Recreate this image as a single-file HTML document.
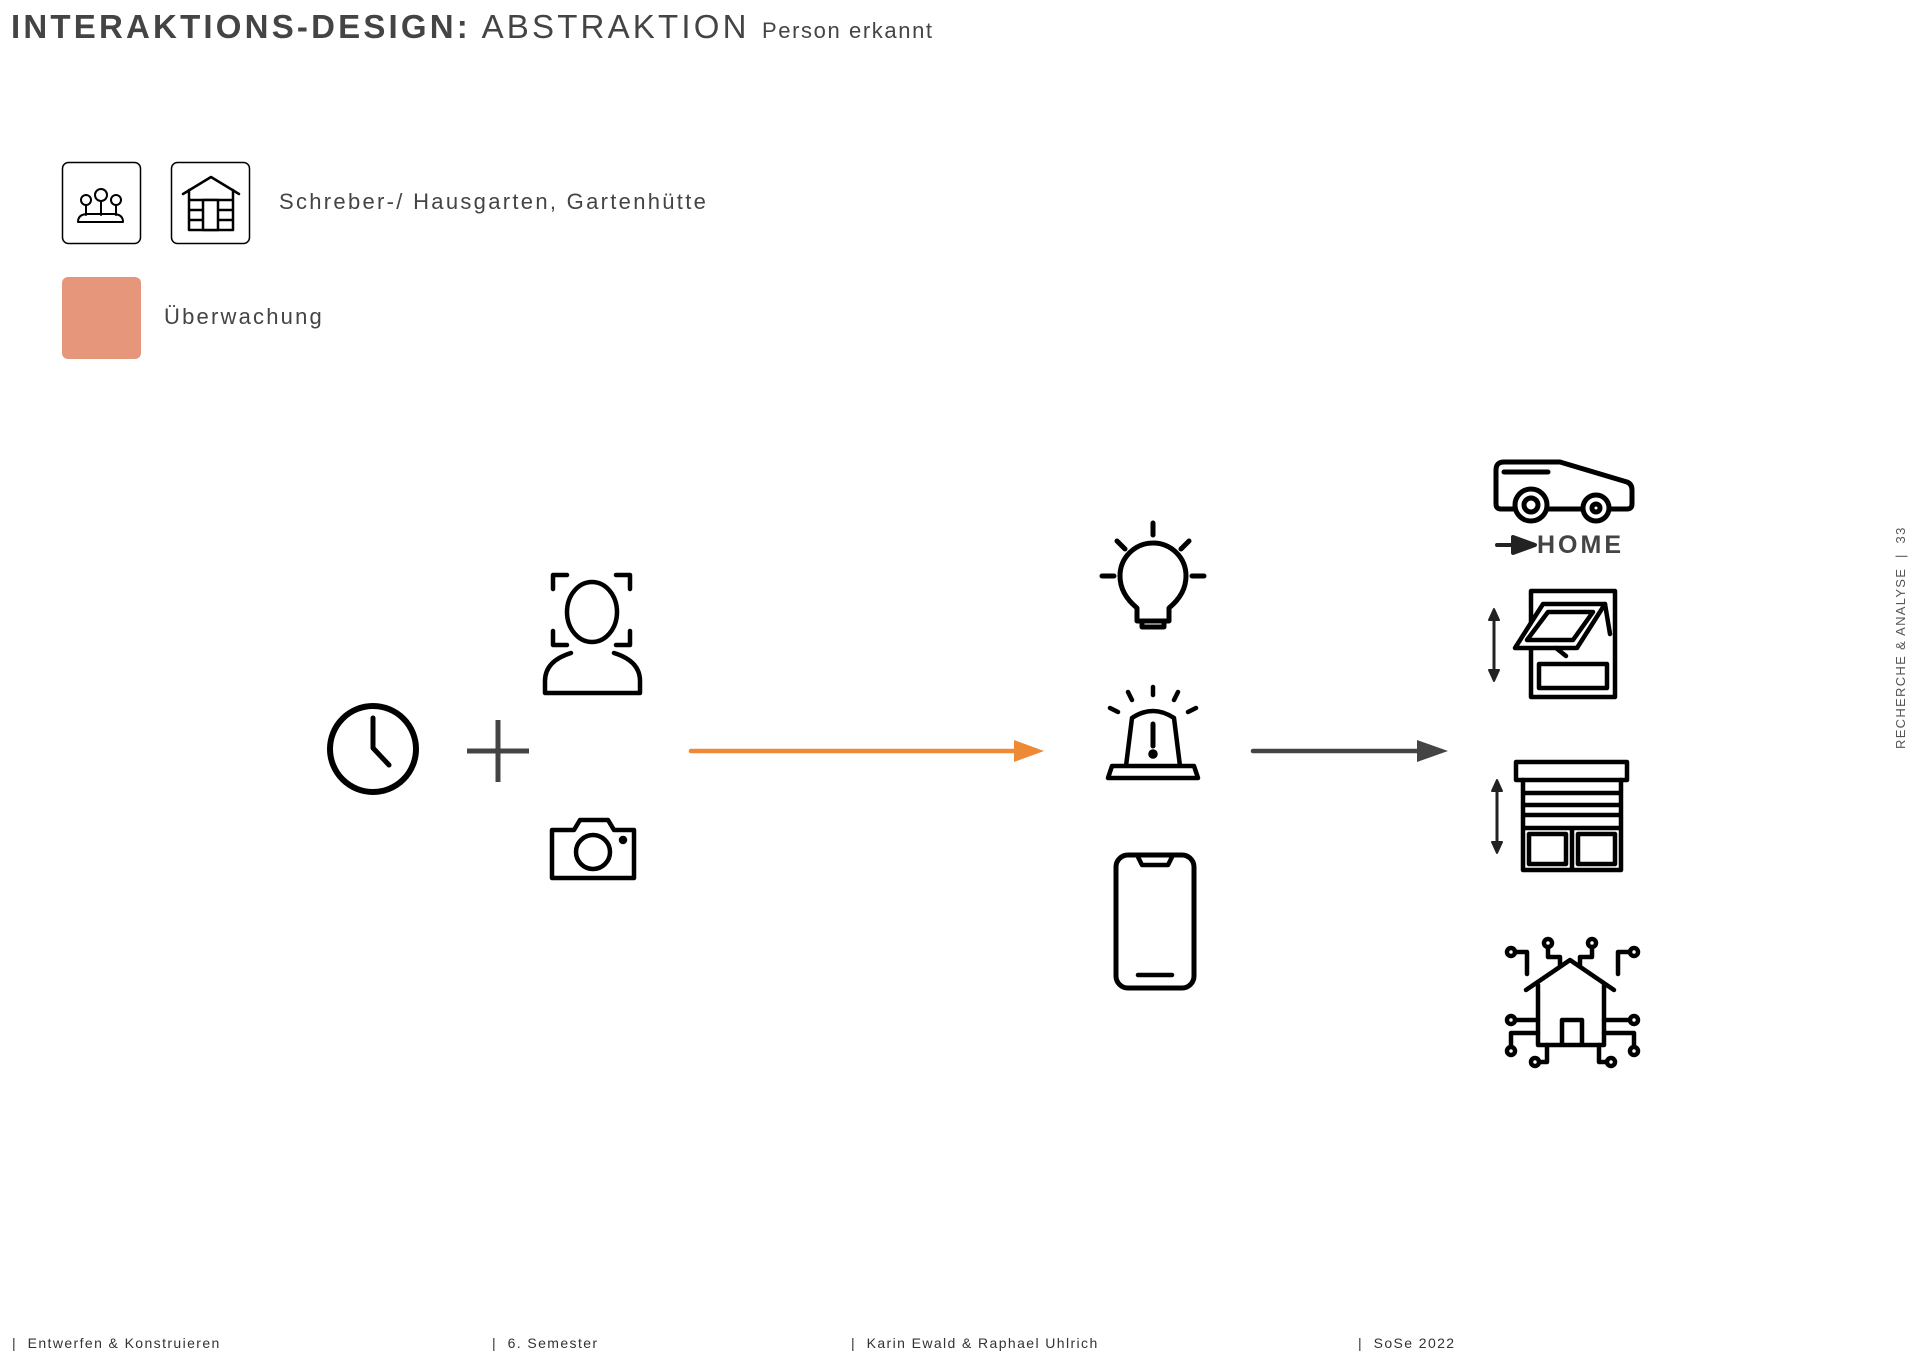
<!DOCTYPE html>
<html><head><meta charset="utf-8"><style>
html,body{margin:0;padding:0;background:#fff;width:1920px;height:1355px;overflow:hidden;font-family:"Liberation Sans",sans-serif;color:#444}
.t{position:absolute;white-space:nowrap}
</style></head><body>
<div class="t" style="left:11px;top:8px;font-size:33px;letter-spacing:3.2px;color:#444"><b>INTERAKTIONS-DESIGN:</b> <span style="font-weight:normal">ABSTRAKTION</span> <span style="font-size:22px;letter-spacing:1.6px">Person erkannt</span></div>
<div class="t" style="left:279px;top:189px;font-size:22px;letter-spacing:2.3px;color:#444">Schreber-/ Hausgarten, Gartenhütte</div>
<div class="t" style="left:164px;top:304px;font-size:22px;letter-spacing:2.2px;color:#444">Überwachung</div>
<div class="t" style="left:1893px;top:749px;font-size:13px;letter-spacing:1.3px;color:#555;transform:rotate(-90deg);transform-origin:0 0">RECHERCHE &amp; ANALYSE &nbsp;|&nbsp; 33</div>
<div class="t" style="left:12px;top:1335px;font-size:14px;letter-spacing:1.4px;color:#333">|&nbsp; Entwerfen &amp; Konstruieren</div>
<div class="t" style="left:492px;top:1335px;font-size:14px;letter-spacing:1.4px;color:#333">|&nbsp; 6. Semester</div>
<div class="t" style="left:851px;top:1335px;font-size:14px;letter-spacing:1.4px;color:#333">|&nbsp; Karin Ewald &amp; Raphael Uhlrich</div>
<div class="t" style="left:1358px;top:1335px;font-size:14px;letter-spacing:1.4px;color:#333">|&nbsp; SoSe 2022</div>
<svg width="1920" height="1355" style="position:absolute;left:0;top:0" fill="none" stroke="#000" stroke-linecap="round" stroke-linejoin="round">
<rect x="62.5" y="162.5" width="78" height="81" rx="6" stroke-width="1.5"/>
<rect x="171.5" y="162.5" width="78" height="81" rx="6" stroke-width="1.5"/>
<g stroke-width="2"><circle cx="86" cy="200" r="5"/><circle cx="101" cy="195" r="6"/><circle cx="116" cy="200" r="5"/><path d="M86 205v10M101 201v14M116 205v10M78 222q0-8 10-8h25q10 0 10 8z"/></g>
<g stroke-width="2.5"><path d="M183 194l28-17 28 17M189 190v40h44v-40M189 200h44M189 210h44M189 220h44"/><rect x="203" y="200" width="15" height="30" fill="#fff"/></g>
<rect x="62" y="277" width="79" height="82" rx="6" fill="#E6967A" stroke="none"/>
<circle cx="373" cy="749" r="43" stroke-width="6"/><path d="M373 718v30l16 17" stroke-width="5"/>
<path d="M498 720v62M467 751h62" stroke="#444" stroke-width="5" stroke-linecap="butt"/>
<g stroke-width="4.5"><path d="M553 589v-14h14M616 575h14v14M553 631v14h14M630 631v14h-14"/>
<ellipse cx="592" cy="612" rx="25" ry="30"/><path d="M545 693v-12q0-20 26-28M640 693v-12q0-20-26-28M545 693h95"/></g>
<g stroke-width="4.5"><path d="M552 830h22l6-10h28l6 10h20v48h-82z"/><circle cx="593" cy="852" r="17"/><circle cx="623" cy="840" r="2" fill="#000"/></g>
<path d="M691 751h325" stroke="#EE8A35" stroke-width="4.5"/><path d="M1014 740l30 11-30 11z" fill="#EE8A35" stroke="none"/>
<g stroke-width="5"><path d="M1153 523v12M1117 541l8 8M1189 541l-8 8M1102 576h12M1192 576h12"/>
<path d="M1137 608q-17-14-17-32a33 33 0 0 1 66 0q0 18-17 32v13h-32z"/><path d="M1142 621v6h22v-6"/></g>
<g stroke-width="4.5"><path d="M1153 687v8M1128 692l4 8M1178 692l-4 8M1110 708l8 4M1196 708l-8 4M1126 766l6-48q21-14 42 0l6 48M1108 778l4-12h82l4 12z"/><path d="M1153 724v22" stroke-width="5"/><circle cx="1153" cy="754" r="2.5" fill="#000"/></g>
<rect x="1116" y="855" width="78" height="133" rx="12" stroke-width="5"/><path d="M1138 857l4 8h26l4-8M1138 975h34" stroke-width="4.5"/>
<path d="M1253 751h167" stroke="#444" stroke-width="4.5"/><path d="M1417 740l31 11-31 11z" fill="#444" stroke="none"/>
<g stroke-width="5"><path d="M1496 495v-25q0-8 8-8h56l67 20q5 2 5 8v14q0 5-5 5h-126q-5 0-5-5z M1504 472h44"/><circle cx="1531" cy="505" r="16" fill="#fff"/><circle cx="1531" cy="505" r="7"/><circle cx="1596" cy="508" r="13" fill="#fff"/><circle cx="1596" cy="508" r="4"/></g>
<path d="M1497 545h20M1513 537l22 8-22 8z" fill="#222" stroke="#222" stroke-width="4"/>
<text x="1537" y="553" font-family="Liberation Sans" font-weight="bold" font-size="25" letter-spacing="3" fill="#444" stroke="none">HOME</text>
<g stroke-width="4.5"><rect x="1531" y="591" width="84" height="106"/><rect x="1539" y="664" width="68" height="24"/><path d="M1515 648l28-44h62l-28 44z" fill="#fff"/><path d="M1527 640l21-28h45l-20 28z"/><path d="M1556 648l10 8M1605 604l5 30"/></g>
<path d="M1494 618v55" stroke="#222" stroke-width="3"/><path d="M1489 620l5-11 5 11zM1489 670l5 11 5-11z" fill="#222" stroke="#222" stroke-width="2"/>
<g stroke-width="4.5"><rect x="1516" y="762" width="111" height="18"/><path d="M1523 780v90h98v-90M1523 793h98M1523 805h98M1523 815h98M1523 828h98M1572 828v42"/><rect x="1529" y="834" width="37" height="30"/><rect x="1578" y="834" width="37" height="30"/></g>
<path d="M1497 789v55" stroke="#222" stroke-width="3"/><path d="M1492 791l5-11 5 11zM1492 842l5 11 5-11z" fill="#222" stroke="#222" stroke-width="2"/>
<g stroke-width="4.5"><path d="M1526 990l44-30 44 30M1538 985v60h66v-60M1562 1045v-25h20v25"/>
<circle cx="1511" cy="952" r="4"/><circle cx="1548" cy="943" r="4"/><circle cx="1592" cy="943" r="4"/><circle cx="1634" cy="952" r="4"/>
<path d="M1515 952h12v22M1548 947v10h12v8M1592 947v10h-12v8M1630 952h-12v22"/>
<circle cx="1511" cy="1020" r="4"/><circle cx="1511" cy="1051" r="4"/><circle cx="1634" cy="1020" r="4"/><circle cx="1634" cy="1051" r="4"/><circle cx="1535" cy="1062" r="4"/><circle cx="1611" cy="1062" r="4"/>
<path d="M1515 1020h23M1511 1047v-14h27M1630 1020h-26M1634 1047v-14h-30M1539 1062h8v-17M1607 1062h-8v-17"/></g>
</svg>
</body></html>
